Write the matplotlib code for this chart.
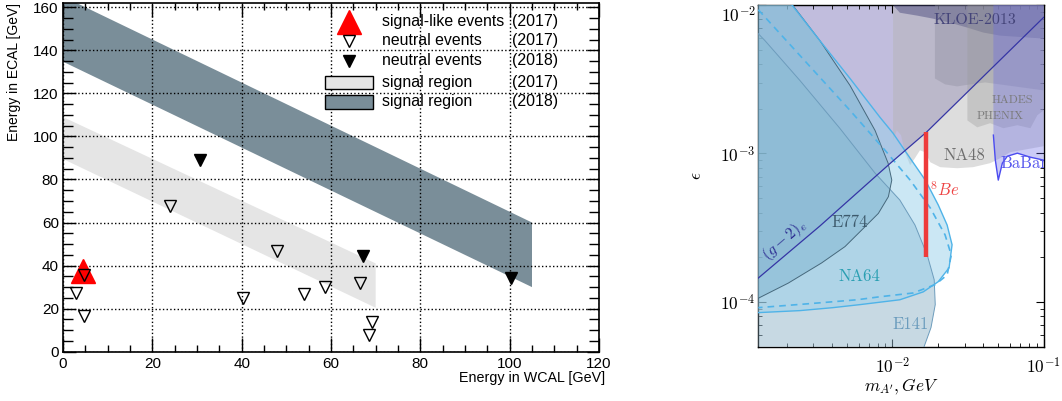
import matplotlib
matplotlib.use('Agg')
import numpy as np
import matplotlib.pyplot as plt
from matplotlib.patches import Rectangle
from matplotlib.ticker import MultipleLocator, LogLocator, NullFormatter, FuncFormatter
from matplotlib.colors import to_rgba

# ---------------- left panel data ----------------
sig17_x = [4.5]
sig17_y = [37.5]
neu17_x = [4.6, 2.8, 4.7, 24.0, 40.2, 48.0, 54.0, 58.7, 66.5, 69.1, 68.5]
neu17_y = [35.4, 27.3, 16.8, 67.7, 24.9, 46.9, 26.8, 30.2, 32.0, 13.9, 7.8]
neu18_x = [30.6, 67.1, 100.3]
neu18_y = [89.1, 44.4, 34.1]
reg17_x = [0, 0, 70, 70]
reg17_y = [89.5, 109, 41, 20.4]
reg18_x = [0, 0, 105, 105]
reg18_y = [134.7, 165, 60, 30]
x_ticks = [0, 20, 40, 60, 80, 100, 120]
y_ticks = [0, 20, 40, 60, 80, 100, 120, 140, 160]
leg_labels = ['signal-like events', 'neutral events', 'neutral events', 'signal region', 'signal region']
leg_years = ['(2017)', '(2017)', '(2018)', '(2017)', '(2018)']

# ---------------- right panel data ----------------
XMIN, XMAX = 1.3e-3, 0.1
YMIN, YMAX = 5e-5, 1e-2
G2_M = [1.3e-3, 3.32e-3, 9.66e-3, 1.69e-2, 0.1]
G2_EPS = [1.45e-4, 3.25e-4, 8.57e-4, 1.40e-3, 8.26e-3]
E141_M = [1.3e-3, 1.44e-3, 2.45e-3, 4.49e-3, 7.68e-3, 1.12e-2, 1.41e-2, 1.70e-2, 1.89e-2, 1.92e-2, 1.80e-2, 1.62e-2]
E141_EPS = [6.41e-3, 5.75e-3, 3.10e-3, 1.48e-3, 7.38e-4, 4.86e-4, 3.30e-4, 2.07e-4, 1.41e-4, 9.6e-5, 6.73e-5, 5.0e-5]
E774_M = [2.19e-3, 3.32e-3, 5.25e-3, 7.68e-3, 9.37e-3, 9.91e-3, 9.41e-3, 8.08e-3, 6.59e-3, 4.86e-3, 3.40e-3, 2.05e-3, 1.3e-3]
E774_EPS = [1e-2, 5.75e-3, 2.87e-3, 1.43e-3, 8.61e-4, 6.62e-4, 5.12e-4, 3.95e-4, 3.21e-4, 2.36e-4, 1.83e-4, 1.34e-4, 1.06e-4]
NA64_M = [2.17e-3, 3.32e-3, 5.25e-3, 8.29e-3, 1.01e-2, 1.31e-2, 1.65e-2, 2.01e-2, 2.30e-2, 2.48e-2,
          2.37e-2, 2.01e-2, 1.60e-2, 1.12e-2, 6.10e-3, 4.04e-3, 2.45e-3, 1.3e-3]
NA64_EPS = [1e-2, 5.75e-3, 3.20e-3, 1.75e-3, 1.37e-3, 9.3e-4, 6.62e-4, 4.50e-4, 3.30e-4, 2.43e-4,
            1.70e-4, 1.37e-4, 1.17e-4, 1.035e-4, 9.6e-5, 9.16e-5, 8.75e-5, 8.48e-5]
NA64EXP_M = [1.3e-3, 2.45e-3, 5.25e-3, 8.95e-3, 1.31e-2, 1.78e-2, 2.23e-2, 2.45e-2, 2.30e-2, 1.92e-2,
             1.37e-2, 8.29e-3, 5.83e-3, 2.85e-3, 1.3e-3]
NA64EXP_EPS = [9.29e-3, 4.57e-3, 1.95e-3, 1.05e-3, 6.62e-4, 4.30e-4, 2.83e-4, 2.07e-4, 1.52e-4, 1.31e-4,
               1.15e-4, 1.085e-4, 1.035e-4, 9.75e-5, 9.16e-5]
NA48_M = [1.01e-2, 1.07e-2, 1.14e-2, 1.21e-2, 1.31e-2, 1.41e-2, 1.52e-2, 1.65e-2, 1.78e-2, 2.07e-2,
          2.68e-2, 3.42e-2, 4.43e-2, 5.16e-2, 6.01e-2, 0.1]
NA48_EPS = [1.23e-3, 1.43e-3, 1.33e-3, 1.02e-3, 8.34e-4, 9.3e-4, 1.05e-3, 1.02e-3, 8.74e-4, 8.09e-4,
            7.96e-4, 8.09e-4, 8.61e-4, 9.3e-4, 1.02e-3, 1.12e-3]
KLOE_M = [1.01e-2, 1.12e-2, 1.46e-2, 1.86e-2, 2.41e-2, 3.13e-2, 3.99e-2, 5.16e-2, 0.1]
KLOE_EPS = [1e-2, 8.87e-3, 8.48e-3, 8.09e-3, 7.60e-3, 7.04e-3, 6.52e-3, 6.22e-3, 5.94e-3]
A1_M = [1.91e-2, 1.91e-2, 2.23e-2, 2.68e-2, 3.27e-2, 4.11e-2, 0.1]
A1_EPS = [1e-2, 3.20e-3, 2.92e-3, 2.83e-3, 2.92e-3, 3.01e-3, 2.66e-3]
HADES_M = [3.13e-2, 3.13e-2, 3.64e-2, 4.43e-2, 5.41e-2, 6.70e-2, 8.17e-2, 9.08e-2, 0.1]
HADES_EPS = [1e-2, 1.67e-3, 1.50e-3, 1.60e-3, 1.48e-3, 1.55e-3, 1.48e-3, 1.81e-3, 1.95e-3]
BABAR_M = [4.65e-2, 4.65e-2, 4.79e-2, 5.01e-2, 5.33e-2, 5.75e-2, 6.70e-2, 8.17e-2, 0.1]
BABAR_EPS = [1e-2, 1.33e-3, 9.02e-4, 6.62e-4, 8.61e-4, 9.59e-4, 1.005e-3, 9.44e-4, 9.02e-4]
X17_M = 0.0167
X17_EPS = [2.0e-4, 1.4e-3]

plt.rcParams['font.family'] = ['Liberation Sans', 'DejaVu Sans']
plt.rcParams['mathtext.fontset'] = 'cm'

fig = plt.figure(figsize=(10.62, 4.01), dpi=100)

# ================= left panel =================
ax1 = fig.add_axes([63/1062, 49.3/401, 536/1062, 348.8/401])
ax1.fill(reg17_x, reg17_y, color='#e5e5e5', lw=0, zorder=1)
ax1.fill(reg18_x, reg18_y, color='#7a8e99', lw=0, zorder=1)
ax1.set_xlim(0, 120)
ax1.set_ylim(0, 162)
ax1.set_axisbelow(False)
ax1.grid(True, which='major', ls=':', color='black', lw=1.0)
ax1.plot(sig17_x, sig17_y, ls='none', marker='^', ms=17.3, color='red', mec='red', zorder=3)
ax1.plot(neu17_x, neu17_y, ls='none', marker='v', ms=9.2, mfc='none', mec='black', mew=1.0, zorder=4)
ax1.plot(neu18_x, neu18_y, ls='none', marker='v', ms=8.8, color='black', zorder=4)
ax1.set_xticks(x_ticks)
ax1.set_yticks(y_ticks)
ax1.xaxis.set_minor_locator(MultipleLocator(5))
ax1.yaxis.set_minor_locator(MultipleLocator(5))
ax1.tick_params(which='both', direction='in', top=True, right=True, labelsize=11, width=1.0)
ax1.tick_params(axis='x', which='major', length=10, pad=4)
ax1.tick_params(axis='x', which='minor', length=5)
ax1.tick_params(axis='y', which='major', length=9, pad=3)
ax1.tick_params(axis='y', which='minor', length=7)
for s in ax1.spines.values():
    s.set_linewidth(1.2)
ax1.set_xlabel('Energy in WCAL [GeV]', fontsize=10.3, loc='right')
ax1.xaxis.set_label_coords(1.012, -0.055)
ax1.set_ylabel('Energy in ECAL [GeV]', fontsize=10, loc='top')
ax1.yaxis.set_label_coords(-0.078, 1.0)

# legend (drawn by hand, ROOT style)
rows_y = [0.946, 0.892, 0.834, 0.772, 0.716]
mx, tx, yx = 0.5335, 0.596, 0.838
ax1.plot([mx], [rows_y[0]], marker='^', ms=17.3, color='red', transform=ax1.transAxes, clip_on=False, zorder=5)
ax1.plot([mx], [rows_y[1]], marker='v', ms=9.2, mfc='none', mec='black', mew=1.0, transform=ax1.transAxes, zorder=5)
ax1.plot([mx], [rows_y[2]], marker='v', ms=8.8, color='black', transform=ax1.transAxes, zorder=5)
for yy, fc in [(rows_y[3], '#e5e5e5'), (rows_y[4], '#7a8e99')]:
    ax1.add_patch(Rectangle((0.489, yy - 0.019), 0.089, 0.038, transform=ax1.transAxes,
                            facecolor=fc, edgecolor='black', lw=1.0, zorder=5))
for yy, lab, yr in zip(rows_y, leg_labels, leg_years):
    ax1.text(tx, yy, lab, transform=ax1.transAxes, fontsize=11.4, va='center', ha='left', zorder=6)
    ax1.text(yx, yy, yr, transform=ax1.transAxes, fontsize=11.4, va='center', ha='left', zorder=6)

# ================= right panel =================
ax2 = fig.add_axes([758.3/1062, 54.3/401, 285.4/1062, 341.7/401])
ax2.set_xscale('log')
ax2.set_yscale('log')
ax2.set_xlim(XMIN, XMAX)
ax2.set_ylim(YMIN, YMAX)

def region(m, e, color, alpha, z):
    ax2.fill(m, e, facecolor=to_rgba(color, alpha), edgecolor='none', zorder=z)

region(G2_M + [XMAX, XMIN], G2_EPS + [YMAX, YMAX], '#c1bddd', 1.0, 1)
region([NA48_M[0]] + NA48_M + [XMAX], [YMAX] + NA48_EPS + [YMAX], '#b4b4b4', 0.45, 2)
region(KLOE_M + [XMAX], KLOE_EPS + [YMAX], '#44447a', 0.45, 3)
region(A1_M + [XMAX], A1_EPS + [YMAX], '#8a8a9a', 0.35, 3)
region(HADES_M + [XMAX], HADES_EPS + [YMAX], '#9a9a9a', 0.35, 3)
region(BABAR_M + [XMAX], BABAR_EPS + [YMAX], '#6a6ae6', 0.35, 3)
ax2.plot(BABAR_M[1:], BABAR_EPS[1:], color='#4b4bf0', lw=1.0, zorder=3.5)

region(E141_M + [XMIN], E141_EPS + [YMIN], '#91b5c9', 0.5, 4)
region(E774_M + [XMIN], E774_EPS + [YMAX], '#6498b4', 0.5, 5)
region([XMIN] + NA64_M, [YMAX] + NA64_EPS, '#99d1eb', 0.5, 6)

ax2.plot(E141_M, E141_EPS, color='#6d9cbc', lw=0.7, zorder=7)
ax2.plot(E774_M, E774_EPS, color='#46687c', lw=0.7, zorder=7)
ax2.plot(NA64_M, NA64_EPS, color='#4fb3e8', lw=1.0, zorder=7)
ax2.plot(NA64EXP_M, NA64EXP_EPS, color='#4fb3e8', lw=1.2, ls=(0, (4, 3)), zorder=7)
ax2.plot(G2_M, G2_EPS, color='#3535a5', lw=0.9, zorder=7)
ax2.plot([X17_M, X17_M], X17_EPS, color='#ee3b3b', lw=3.2, zorder=8, solid_capstyle='butt')

cm = 'cmr10'
ax2.text(3.53e-2, 7.85e-3, 'KLOE-2013', fontfamily=cm, fontsize=11.5, color='#45457a', ha='center', va='center', zorder=9)
ax2.text(6.21e-2, 2.28e-3, 'HADES', fontfamily=cm, fontsize=8.5, color='#7a7a7a', ha='center', va='center', zorder=9)
ax2.text(5.16e-2, 1.78e-3, 'PHENIX', fontfamily=cm, fontsize=8.5, color='#7a7a7a', ha='center', va='center', zorder=9)
ax2.text(2.99e-2, 9.75e-4, 'NA48', fontfamily=cm, fontsize=12, color='#6e6e6e', ha='center', va='center', zorder=9)
ax2.text(5.16e-2, 8.61e-4, 'BaBar', fontfamily=cm, fontsize=12, color='#5858ee', ha='left', va='center', zorder=9, clip_on=True)
ax2.text(1.77e-2, 5.75e-4, r'$^8Be$', fontsize=12, color='#ee4444', ha='left', va='center', zorder=9)
ax2.text(5.25e-3, 3.46e-4, 'E774', fontfamily=cm, fontsize=12, color='#3d5a6c', ha='center', va='center', zorder=9)
ax2.text(6.01e-3, 1.50e-4, 'NA64', fontfamily=cm, fontsize=12, color='#2a9fb2', ha='center', va='center', zorder=9)
ax2.text(1.31e-2, 7.05e-5, 'E141', fontfamily=cm, fontsize=12, color='#6b9cbd', ha='center', va='center', zorder=9)
ax2.text(1.95e-3, 2.62e-4, r'$(g-2)_e$', fontsize=11.5, color='#2a2a90', ha='center', va='center', rotation=41, zorder=9)

def pow10(v, pos):
    return r'$10^{%d}$' % int(np.round(np.log10(v)))

def pow10_y(v, pos):
    # the top label is placed by hand so it stays inside the figure
    if np.isclose(v, YMAX):
        return ''
    return pow10(v, pos)

ax2.xaxis.set_major_locator(LogLocator(base=10, numticks=10))
ax2.yaxis.set_major_locator(LogLocator(base=10, numticks=10))
ax2.xaxis.set_major_formatter(FuncFormatter(pow10))
ax2.yaxis.set_major_formatter(FuncFormatter(pow10_y))
ax2.xaxis.set_minor_locator(LogLocator(base=10, subs=range(2, 10), numticks=20))
ax2.yaxis.set_minor_locator(LogLocator(base=10, subs=range(2, 10), numticks=20))
ax2.xaxis.set_minor_formatter(NullFormatter())
ax2.yaxis.set_minor_formatter(NullFormatter())
ax2.tick_params(which='both', direction='in', top=True, right=True, labelsize=12.5)
ax2.tick_params(which='major', length=6)
ax2.tick_params(which='minor', length=3)
ax2.tick_params(axis='x', pad=7)
ax2.tick_params(axis='y', pad=2)
ax2.text(-0.009, 1.0, pow10(YMAX, 0), transform=ax2.transAxes, fontsize=12.5,
         ha='right', va='top')
for s in ax2.spines.values():
    s.set_linewidth(1.0)
ax2.set_xlabel(r"$m_{A'}, GeV$", fontsize=12.5)
ax2.xaxis.set_label_coords(0.5, -0.088)
ax2.set_ylabel(r'$\epsilon$', fontsize=12.5)
ax2.yaxis.set_label_coords(-0.19, 0.5)

fig.savefig('out.png', dpi=100)
